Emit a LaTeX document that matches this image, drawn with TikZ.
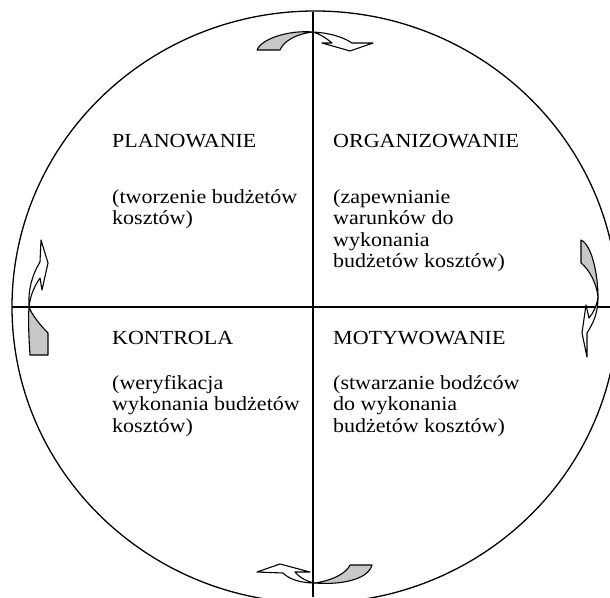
\documentclass[tikz,border=0pt]{standalone}
\usepackage{fontspec}
\setmainfont{Liberation Serif}[FakeStretch=1.1]
\begin{document}
\begin{tikzpicture}[x=1pt,y=-1pt,
  rim/.style={line width=1.3pt},
  axis/.style={line width=1.2pt},
  label/.style={anchor=north west, inner sep=0pt, align=left,
    font=\fontsize{20}{21.5}\selectfont},
  back/.style={draw, line width=1.1pt, fill=black!22, line join=round},
  front/.style={draw, line width=1.1pt, fill=white, line join=round}]
\useasboundingbox (0,0) rectangle (610,597);

% outer ring and the two axes
\draw[rim] (315,307) ellipse [x radius=303, y radius=296];
\draw[axis] (313,12) -- (313,597);
\draw[axis] (12,307) -- (610,307);

% quadrant titles and descriptions (top edge = baseline - cap height)
\node[label] (plan) at (112,134) {PLANOWANIE};
\node[label] (plan-d) at (112,189) {(tworzenie budżetów\\kosztów)};
\node[label] (org) at (333,134) {ORGANIZOWANIE};
\node[label] (org-d) at (333,189) {(zapewnianie\\warunków do\\wykonania\\budżetów kosztów)};
\node[label] (kon) at (112,331) {KONTROLA};
\node[label] (kon-d) at (112,375) {(weryfikacja\\wykonania budżetów\\kosztów)};
\node[label] (mot) at (333,331) {MOTYWOWANIE};
\node[label] (mot-d) at (333,375) {(stwarzanie bodźców\\do wykonania\\budżetów kosztów)};

% top curved arrow
\draw[back] (257,50) .. controls (262,38) and (290,30) .. (313,32)
  .. controls (295,34) and (283,42) .. (280,50) -- cycle;
\draw[front] (313,32) .. controls (330,33) and (343,37) .. (352,43)
  -- (373,43) -- (350,51) -- (322,43) -- (332,43)
  .. controls (326,38) and (320,34) .. (313,32) -- cycle;

% bottom curved arrow
\draw[back] (350,565) -- (372,565) .. controls (368,580) and (340,585) .. (315,583)
  .. controls (335,580) and (347,572) .. (350,565) -- cycle;
\draw[front] (315,583) .. controls (298,583) and (288,578) .. (283,573)
  -- (257,572) -- (280,564) -- (310,572) -- (295,572)
  .. controls (300,578) and (308,582) .. (315,583) -- cycle;

% left curved arrow
\draw[back] (30,355) -- (48,355) -- (48,333) .. controls (40,325) and (32,315) .. (29,307)
  .. controls (28,320) and (29,340) .. (30,355) -- cycle;
\draw[front] (29,307) .. controls (28,290) and (32,275) .. (40,262)
  -- (41,240) -- (48,263) -- (42,290) -- (40,278)
  .. controls (33,288) and (30,298) .. (29,307) -- cycle;

% right curved arrow
\draw[back] (581,240) -- (581,263) .. controls (590,270) and (597,285) .. (598,297)
  .. controls (598,275) and (592,245) .. (581,240) -- cycle;
\draw[front] (598,297) .. controls (598,315) and (592,325) .. (587,333)
  -- (587,357) -- (582,333) -- (586,305) -- (589,318)
  .. controls (594,312) and (597,305) .. (598,297) -- cycle;
\end{tikzpicture}
\end{document}
